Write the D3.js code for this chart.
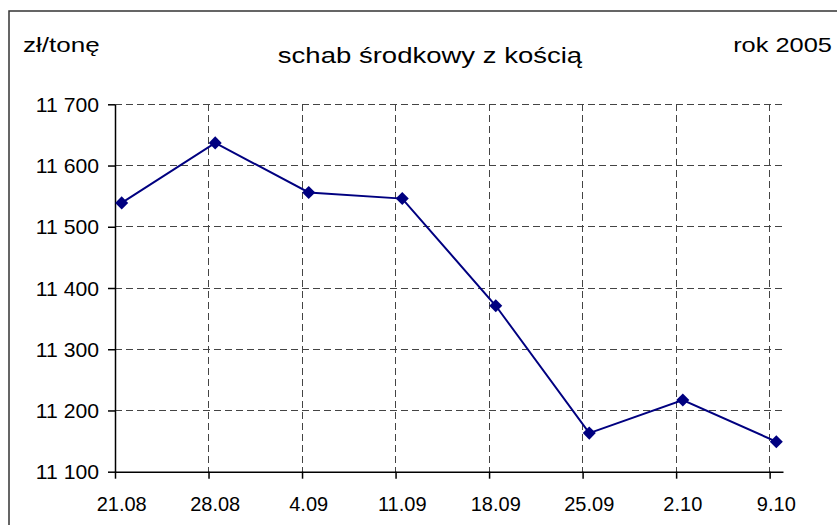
<!DOCTYPE html>
<html>
<head>
<meta charset="utf-8">
<script src="https://cdn.jsdelivr.net/npm/d3@7"></script>
<style>
  body { margin: 0; background: #fff; }
  svg text { font-family: "Liberation Sans", Arial, sans-serif; fill: #000; }
</style>
</head>
<body>
<div id="wrapper"></div>
<script>
// data
const dateLabels = ["21.08", "28.08", "4.09", "11.09", "18.09", "25.09", "2.10", "9.10"]
const dates = [
  [2005, 7, 21], [2005, 7, 28], [2005, 8, 4], [2005, 8, 11],
  [2005, 8, 18], [2005, 8, 25], [2005, 9, 2], [2005, 9, 9]
].map(d => new Date(Date.UTC(d[0], d[1], d[2])))
const prices = [11539, 11637, 11556, 11546, 11371, 11163, 11217, 11149]
const yTicks = [11100, 11200, 11300, 11400, 11500, 11600, 11700]

const dataset = dates.map((d, i) => ({ date: d, label: dateLabels[i], price: prices[i] }))

const DAY = 24 * 3600 * 1000
const width = 837
const height = 525
const plot = { left: 115, right: 783, top: 104.3, bottom: 471.7 }

const svg = d3.select("#wrapper")
  .append("svg")
    .attr("width", width)
    .attr("height", height)

// outer frame (cut off at right and bottom like the source)
svg.append("rect")
  .attr("x", 9)
  .attr("y", 11)
  .attr("width", 900)
  .attr("height", 600)
  .attr("fill", "none")
  .attr("stroke", "#333")
  .attr("stroke-width", 1.5)

// one slot per day, points in the middle of their day
const xScaler = d3.scaleUtc()
  .domain([dates[0], new Date(+dates[dates.length - 1] + DAY)])
  .range([plot.left, plot.right])

const yScaler = d3.scaleLinear()
  .domain([11100, 11700])
  .range([plot.bottom, plot.top])

const xMid = d => xScaler(new Date(+d.date + DAY / 2))

const pl = d3.formatLocale({ decimal: ",", thousands: " ", grouping: [3], currency: ["", ""] })
const yFormat = pl.format(",d")

// grid
const grid = svg.append("g")
  .attr("stroke", "#444")
  .attr("stroke-width", 1)
  .attr("stroke-dasharray", "6.5,4.5")
  .attr("shape-rendering", "crispEdges")

grid.selectAll(".hgrid")
  .data(yTicks.slice(1))
  .join("line")
    .attr("x1", plot.left)
    .attr("x2", plot.right)
    .attr("y1", d => yScaler(d))
    .attr("y2", d => yScaler(d))

grid.selectAll(".vgrid")
  .data(dates.slice(1))
  .join("line")
    .attr("x1", d => xScaler(d))
    .attr("x2", d => xScaler(d))
    .attr("y1", plot.top)
    .attr("y2", plot.bottom)

// axes
const yAxis = svg.append("g")
  .attr("transform", `translate(${plot.left},0)`)
  .call(d3.axisLeft(yScaler).tickValues(yTicks).tickFormat(yFormat).tickSize(7).tickSizeOuter(0))
yAxis.selectAll("text")
  .attr("font-size", "20px")
  .attr("x", -15)
  .attr("dy", "0.36em")
  .attr("transform", "scale(1.06,1)")
yAxis.selectAll("line, path").attr("stroke", "#000").attr("stroke-width", 1.5)

const xAxis = svg.append("g")
  .attr("transform", `translate(0,${plot.bottom})`)
  .call(d3.axisBottom(xScaler).tickValues(dates).tickFormat("").tickSize(7).tickSizeOuter(0))
xAxis.selectAll("line, path").attr("stroke", "#000").attr("stroke-width", 1.5)

svg.append("g")
  .selectAll("text")
  .data(dataset)
  .join("text")
    .attr("x", xMid)
    .attr("y", 511)
    .attr("text-anchor", "middle")
    .attr("font-size", "20px")
    .text(d => d.label)

// series
const lineGen = d3.line()
  .x(xMid)
  .y(d => yScaler(d.price))

svg.append("path")
  .datum(dataset)
  .attr("d", lineGen)
  .attr("fill", "none")
  .attr("stroke", "#000080")
  .attr("stroke-width", 2)

svg.append("g")
  .selectAll("path")
  .data(dataset)
  .join("path")
    .attr("d", d3.symbol(d3.symbolSquare, 85))
    .attr("transform", d => `translate(${xMid(d)},${yScaler(d.price)}) rotate(45)`)
    .attr("fill", "#000080")

// texts (source lettering is a bit wider than Liberation Sans)
function label(x, y, size, sx, anchor, txt) {
  svg.append("text")
    .attr("transform", `translate(${x},${y}) scale(${sx},1)`)
    .attr("font-size", size + "px")
    .attr("text-anchor", anchor)
    .text(txt)
}
label(23, 52, 21, 1.24, "start", "zł/tonę")
label(832, 52, 21, 1.21, "end", "rok 2005")
label(430, 63, 21.5, 1.28, "middle", "schab środkowy z kością")
</script>
</body>
</html>
